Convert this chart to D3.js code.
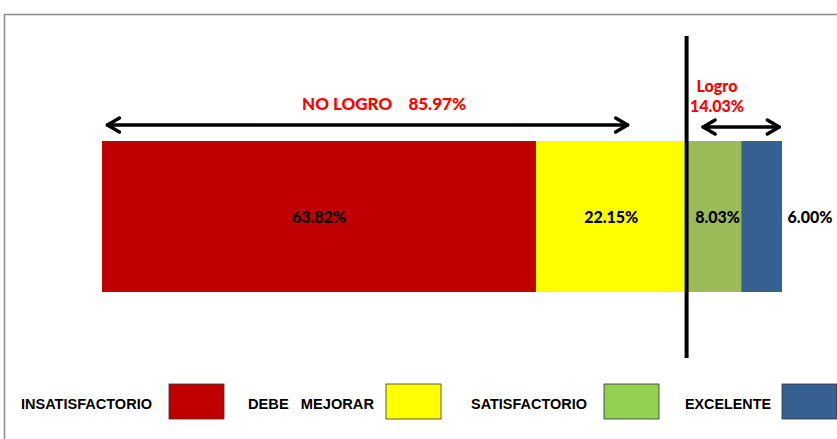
<!DOCTYPE html>
<html lang="en">
<head>
  <meta charset="UTF-8">
  <style>
    body { margin: 0; padding: 0; background: #fff; }
    #chart { display: block; }
  </style>
</head>
<body>
  <svg id="chart" width="837" height="439"></svg>

  <script src="https://d3js.org/d3.v7.min.js"></script>
  <script>
    // datos
    let categories = ["INSATISFACTORIO", "DEBE   MEJORAR", "SATISFACTORIO", "EXCELENTE"];
    let values = [63.82, 22.15, 8.03, 6.00];
    let barColors = ["#C00000", "#FFFF00", "#9BBB59", "#376092"];
    let legendColors = ["#C00000", "#FFFF00", "#92D050", "#376092"];
    let groupLabels = ["NO LOGRO    85.97%", "Logro", "14.03%"];

    let width = 837, height = 439;
    let svg = d3.select("#chart");

    let x = d3.scaleLinear().domain([0, 100]).range([102, 782]);
    let y = d3.scaleBand().domain(["total"]).range([141, 292]);

    // marco
    svg.append("path")
      .attr("d", "M4.5,439 V14.5 H837")
      .attr("fill", "none")
      .attr("stroke", "#8c8c8c")
      .attr("stroke-width", 1.5);

    let stacked = [];
    let acc = 0;
    values.forEach((v, i) => {
      stacked.push({ cat: categories[i], v: v, x0: acc, x1: acc + v, color: barColors[i] });
      acc += v;
    });

    svg.append("g").selectAll("rect")
      .data(stacked)
      .enter()
      .append("rect")
      .attr("x", d => x(d.x0))
      .attr("y", y("total"))
      .attr("width", d => x(d.x1) - x(d.x0))
      .attr("height", y.bandwidth())
      .attr("fill", d => d.color);

    // etiquetas de valores
    let labelX = [(d) => (x(d.x0) + x(d.x1)) / 2, (d) => (x(d.x0) + x(d.x1)) / 2,
                  (d) => x(d.x0) + 31, (d) => x(d.x1) + 28];
    svg.append("g").selectAll("text")
      .data(stacked)
      .enter()
      .append("text")
      .attr("x", (d, i) => labelX[i](d))
      .attr("y", y("total") + y.bandwidth() / 2 + 6)
      .attr("text-anchor", "middle")
      .attr("font-family", "Lato, 'Open Sans', sans-serif")
      .attr("font-weight", 900)
      .attr("font-size", 16)
      .attr("fill", "#000")
      .text(d => d.v.toFixed(2) + "%");

    // linea vertical de corte
    let cut = values[0] + values[1];
    svg.append("line")
      .attr("x1", x(cut)).attr("x2", x(cut))
      .attr("y1", 36).attr("y2", 358)
      .attr("stroke", "#000")
      .attr("stroke-width", 4);

    // flechas
    function arrow(a, b, yy) {
      let g = svg.append("g")
        .attr("fill", "none")
        .attr("stroke", "#000")
        .attr("stroke-width", 3.5)
        .attr("stroke-linecap", "round")
        .attr("stroke-linejoin", "round");
      let xa = x(a), xb = x(b);
      g.append("line").attr("x1", xa).attr("x2", xb).attr("y1", yy).attr("y2", yy);
      g.append("path").attr("d", `M${xa + 12},${yy - 7} L${xa},${yy} L${xa + 12},${yy + 7}`);
      g.append("path").attr("d", `M${xb - 12},${yy - 7} L${xb},${yy} L${xb - 12},${yy + 7}`);
    }
    arrow(0.8, 77.3, 125);
    arrow(88.4, 99.6, 127);

    svg.append("text")
      .attr("x", 384).attr("y", 110)
      .attr("text-anchor", "middle")
      .attr("font-family", "Lato, 'Open Sans', sans-serif")
      .attr("font-weight", 900)
      .attr("font-size", 17)
      .attr("fill", "#FF0000")
      .style("white-space", "pre")
      .text(groupLabels[0]);

    svg.append("text")
      .attr("x", 717).attr("y", 92)
      .attr("text-anchor", "middle")
      .attr("font-family", "Lato, 'Open Sans', sans-serif")
      .attr("font-weight", 900)
      .attr("font-size", 16)
      .attr("fill", "#FF0000")
      .text(groupLabels[1]);
    svg.append("text")
      .attr("x", 717).attr("y", 112)
      .attr("text-anchor", "middle")
      .attr("font-family", "Lato, 'Open Sans', sans-serif")
      .attr("font-weight", 900)
      .attr("font-size", 16)
      .attr("fill", "#FF0000")
      .text(groupLabels[2]);

    // leyenda
    let legendTextX = [21, 248, 471, 685];
    let legendTextW = [131, 126, 116, 86];
    let legendBoxX = [169, 386, 604, 782];
    let leg = svg.append("g");
    categories.forEach((c, i) => {
      leg.append("text")
        .attr("x", legendTextX[i])
        .attr("y", 409)
        .attr("font-family", "'Liberation Sans Narrow', 'Liberation Sans', Arial, sans-serif")
        .attr("font-weight", "bold")
        .attr("font-size", 14)
        .attr("textLength", legendTextW[i])
        .attr("lengthAdjust", "spacingAndGlyphs")
        .attr("fill", "#000")
        .style("white-space", "pre")
        .text(c);
      leg.append("rect")
        .attr("x", legendBoxX[i])
        .attr("y", 384)
        .attr("width", 55)
        .attr("height", 35)
        .attr("fill", legendColors[i])
        .attr("stroke", "#333")
        .attr("stroke-width", 0.8);
    });
  </script>
</body>
</html>
